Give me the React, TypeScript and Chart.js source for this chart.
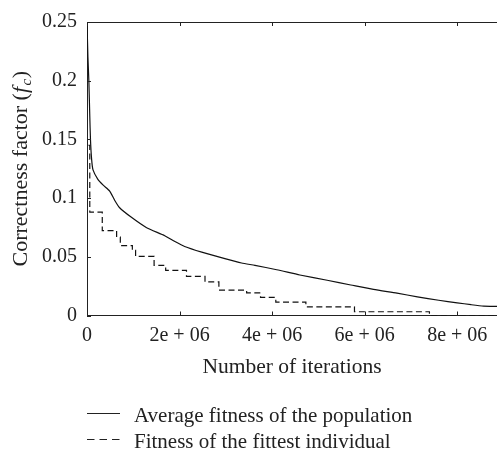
import React, { useEffect, useRef } from "react";
import { Chart, registerables } from "chart.js";

Chart.register(...registerables);

// Average fitness of the population
const avgIterations = [
  0, 20000, 40000, 60000, 75000, 100000, 130000, 235000, 350000, 490000, 600000, 700000,
  960000, 1280000, 1680000, 1900000, 2110000, 2480000, 2980000, 3340000, 3630000, 4100000,
  4600000, 5190000, 5700000, 6190000, 6700000, 7140000, 7600000, 8000000, 8300000, 8570000, 8860000,
];
const avgFitness = [
  0.25, 0.22, 0.2, 0.17, 0.15, 0.133, 0.124, 0.116, 0.111, 0.106, 0.098, 0.092,
  0.0836, 0.075, 0.068, 0.063, 0.0588, 0.054, 0.0484, 0.0447, 0.0427, 0.039,
  0.0345, 0.03, 0.026, 0.0222, 0.019, 0.0159, 0.013, 0.0108, 0.0092, 0.008, 0.0078,
];

// Fitness of the fittest individual (step levels)
const bestIterations = [
  30000, 60000, 330000, 640000, 720000, 980000, 1050000, 1450000, 1700000, 2150000,
  2550000, 2850000, 3450000, 3750000, 4080000, 4730000, 5780000, 7400000, 8860000,
];
const bestFitness = [
  0.145, 0.088, 0.0723, 0.0667, 0.0596, 0.0554, 0.0503, 0.0427, 0.0385, 0.0334,
  0.0286, 0.0216, 0.0193, 0.0154, 0.0114, 0.0074, 0.0032, 0, 0,
];

const xTickValues = [0, 2000000, 4000000, 6000000, 8000000];
const xTickLabels = ["0", "2e + 06", "4e + 06", "6e + 06", "8e + 06"];
const yTickValues = [0, 0.05, 0.1, 0.15, 0.2, 0.25];
const yTickLabels = ["0", "0.05", "0.1", "0.15", "0.2", "0.25"];

const seriesNames = ["Average fitness of the population", "Fitness of the fittest individual"];
const xTitle = "Number of iterations";

const FONT = "'Liberation Serif', 'Times New Roman', serif";
const INK = "#222";

const decorPlugin = {
  id: "decor",
  afterDraw(chart: any) {
    const { ctx, chartArea } = chart;
    const xs = chart.scales.x;
    const ys = chart.scales.y;
    ctx.save();
    ctx.strokeStyle = INK;
    ctx.lineWidth = 1;
    // top border
    ctx.beginPath();
    ctx.moveTo(chartArea.left, Math.round(chartArea.top) + 0.5);
    ctx.lineTo(chartArea.right, Math.round(chartArea.top) + 0.5);
    ctx.stroke();
    // inward ticks
    const tl = 4;
    xTickValues.forEach((v) => {
      const px = Math.round(xs.getPixelForValue(v)) + 0.5;
      ctx.beginPath();
      ctx.moveTo(px, chartArea.bottom);
      ctx.lineTo(px, chartArea.bottom - tl);
      ctx.moveTo(px, chartArea.top);
      ctx.lineTo(px, chartArea.top + tl);
      ctx.stroke();
    });
    yTickValues.forEach((v) => {
      const py = Math.round(ys.getPixelForValue(v)) + 0.5;
      ctx.beginPath();
      ctx.moveTo(chartArea.left, py);
      ctx.lineTo(chartArea.left + tl, py);
      ctx.stroke();
    });

    // y-axis title with italic f and subscript c
    ctx.fillStyle = INK;
    ctx.textBaseline = "alphabetic";
    ctx.textAlign = "left";
    const parts = [
      { t: "Correctness factor (", f: `22px ${FONT}`, dy: 0, gap: 0 },
      { t: "f", f: `italic 22px ${FONT}`, dy: 0, gap: 1.5 },
      { t: "c", f: `italic 15px ${FONT}`, dy: 4, gap: 0.5 },
      { t: ")", f: `22px ${FONT}`, dy: 0, gap: 0 },
    ];
    let total = 0;
    parts.forEach((p) => {
      ctx.font = p.f;
      total += ctx.measureText(p.t).width + p.gap;
    });
    ctx.save();
    ctx.translate(26.5, (chartArea.top + chartArea.bottom) / 2);
    ctx.rotate(-Math.PI / 2);
    let cx = -total / 2;
    parts.forEach((p) => {
      ctx.font = p.f;
      ctx.fillText(p.t, cx, p.dy);
      cx += ctx.measureText(p.t).width + p.gap;
    });
    ctx.restore();

    // legend
    const legendRows = [
      { line: 413.5, base: 421.5, dash: [] as number[] },
      { line: 439.5, base: 448, dash: [7.5, 5] },
    ];
    legendRows.forEach((r, i) => {
      ctx.beginPath();
      ctx.setLineDash(r.dash);
      ctx.lineWidth = 1.2;
      ctx.moveTo(87, r.line);
      ctx.lineTo(120, r.line);
      ctx.stroke();
      ctx.setLineDash([]);
      ctx.font = `21px ${FONT}`;
      ctx.textBaseline = "alphabetic";
      ctx.fillText(seriesNames[i], 134, r.base);
    });
    ctx.restore();
  },
};

export default function App() {
  const ref = useRef<HTMLCanvasElement | null>(null);
  useEffect(() => {
    document.body.style.margin = "0";
    const canvas = ref.current!;
    const chart = new Chart(canvas, {
      type: "line",
      data: {
        datasets: [
          {
            label: seriesNames[0],
            data: avgIterations.map((x, i) => ({ x, y: avgFitness[i] })),
            borderColor: "#111",
            borderWidth: 1.2,
            pointRadius: 0,
            tension: 0.2,
            fill: false,
          },
          {
            label: seriesNames[1],
            data: bestIterations.map((x, i) => ({ x, y: bestFitness[i] })),
            borderColor: "#111",
            borderWidth: 1.2,
            borderDash: [6, 3.5],
            pointRadius: 0,
            stepped: true,
            fill: false,
          },
        ],
      },
      options: {
        animation: false,
        responsive: false,
        layout: { padding: { top: 20, right: 0, bottom: 69, left: 0 } },
        plugins: { legend: { display: false }, tooltip: { enabled: false } },
        scales: {
          x: {
            type: "linear",
            min: 0,
            max: 8860000,
            afterFit: (s: any) => {
              s.height = 64.5;
            },
            afterBuildTicks: (s: any) => {
              s.ticks = xTickValues.map((v) => ({ value: v }));
            },
            ticks: {
              padding: 8,
              color: INK,
              font: { family: FONT, size: 20 },
              maxRotation: 0,
              callback: (v: any) => {
                const i = xTickValues.indexOf(Number(v));
                return i >= 0 ? xTickLabels[i] : "";
              },
            },
            grid: { display: false, drawTicks: false },
            border: { display: true, color: INK, width: 1 },
            title: {
              display: true,
              text: xTitle,
              color: INK,
              font: { family: FONT, size: 21.5 },
              padding: 0,
            },
          },
          y: {
            type: "linear",
            min: 0,
            max: 0.25,
            afterFit: (s: any) => {
              s.width = 87;
            },
            afterBuildTicks: (s: any) => {
              s.ticks = yTickValues.map((v) => ({ value: v }));
            },
            ticks: {
              padding: 10,
              color: INK,
              font: { family: FONT, size: 20 },
              callback: (v: any) => {
                const i = yTickValues.findIndex((t) => Math.abs(t - Number(v)) < 1e-9);
                return i >= 0 ? yTickLabels[i] : "";
              },
            },
            grid: { display: false, drawTicks: false },
            border: { display: true, color: INK, width: 1 },
          },
        },
      },
      plugins: [decorPlugin],
    } as any);
    return () => chart.destroy();
  }, []);
  return (
    <div style={{ position: "fixed", left: 0, top: 0, width: 497, height: 449, background: "#fff" }}>
      <canvas ref={ref} width={497} height={449} style={{ display: "block" }} />
    </div>
  );
}
